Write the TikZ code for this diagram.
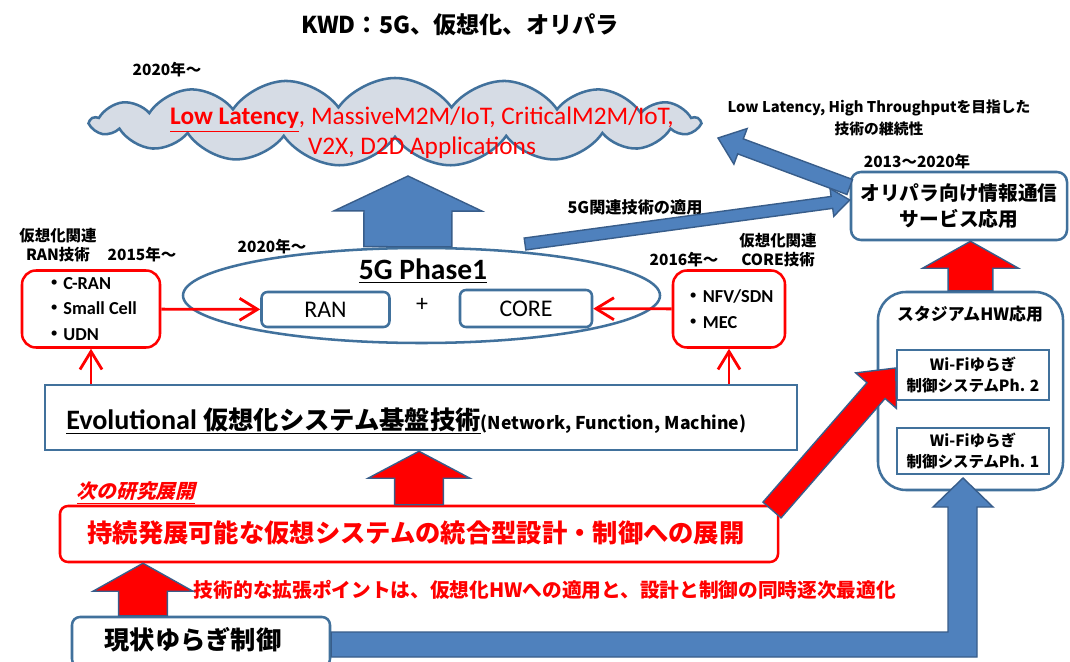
\documentclass[tikz,border=0pt]{standalone}
\usepackage{fontspec}
\setmainfont{Carlito}
\newfontfamily\jp{Noto Sans CJK JP}
\newfontfamily\jpit[FakeSlant=0.25]{Noto Sans CJK JP}
\usetikzlibrary{shapes.geometric,shapes.symbols,arrows.meta,calc}
\definecolor{cadre}{RGB}{65,113,156}
\definecolor{flechebleu}{RGB}{79,129,189}
\definecolor{bordbleu}{RGB}{56,93,138}
\definecolor{gris}{RGB}{214,220,229}
\definecolor{rouge}{RGB}{255,0,0}
\tikzset{
  boite/.style={draw=cadre, line width=1.8pt, fill=white, inner sep=0pt},
  boiterouge/.style={draw=rouge, line width=1.8pt, fill=white, inner sep=0pt},
  blocbleu/.style={fill=flechebleu, draw=bordbleu, line width=1pt},
  blocrouge/.style={fill=rouge, draw=bordbleu, line width=1pt},
  filrouge/.style={draw=rouge, line width=2pt, -{Straight Barb[length=4.5mm,width=5.5mm]}},
  petit/.style={font=\jp\bfseries\fontsize{11}{14}\selectfont, align=center, inner sep=0pt},
}
% fleche pleine : style, depart, arrivee, demi-tige, demi-tete, longueur tete
\newcommand{\flechebloc}[6]{%
  \coordinate (fb) at ($(#3)!#6!(#2)$);
  \draw[#1] ($(#2)!#4!-90:(#3)$) -- ($(fb)!#4!-90:(#3)$) -- ($(fb)!#5!-90:(#3)$) -- (#3)
    -- ($(fb)!#5!90:(#3)$) -- ($(fb)!#4!90:(#3)$) -- ($(#2)!#4!90:(#3)$) -- cycle;
}
\newcommand{\puce}{{\jp ・}}
\begin{document}
\begin{tikzpicture}[x=0.25mm,y=-0.25mm]
	% le fond
	\fill[white] (0,0) rectangle (1070,662);
	\useasboundingbox (0,0) rectangle (1070,662);
	% le titre et le nuage
	\node[font=\jp\bfseries\fontsize{16.5}{20}\selectfont] (titre) at (460,25) {KWD：5G、仮想化、オリパラ};
	\node[petit] (an2020) at (167,70) {2020年～};
	\node[cloud, cloud puffs=17, cloud puff arc=110, cloud ignores aspect, draw=cadre, line width=1.8pt, fill=gris, minimum width=152mm, minimum height=22mm] (cl) at (395,122) {};
	\node[text=rouge, align=center, font=\fontsize{18}{21}\selectfont] (applis) at (422,133) {\underline{\textbf{Low Latency}}, MassiveM2M/IoT, CriticalM2M/IoT,\\V2X, D2D Applications};
	% 5G Phase1
	\node[ellipse, draw=cadre, line width=1.8pt, minimum width=119.25mm, minimum height=23.75mm] (ph) at (421.5,295.5) {};
	\node[font=\bfseries\fontsize{21}{24}\selectfont] (phl) at (423,271) {\underline{5G Phase1}};
	\node[boite, rounded corners=1.5mm, minimum width=32mm, minimum height=8.75mm, font=\fontsize{17}{20}\selectfont] (ran) at (325.5,309.5) {RAN};
	\node[font=\fontsize{17}{20}\selectfont] (plus) at (422,305) {+};
	\node[boite, rounded corners=1.5mm, minimum width=33mm, minimum height=9.25mm, font=\fontsize{17}{20}\selectfont] (core) at (526,308.5) {CORE};
	\node[petit] (an2020b) at (272,247) {2020年～};
	% les deux boites rouges
	\node[boiterouge, rounded corners=3.5mm, minimum width=34.5mm, minimum height=19.25mm, align=left, font=\bfseries\fontsize{13}{18}\selectfont] (ranbox) at (91,309) {\puce C-RAN\\\puce Small Cell\\\puce UDN};
	\node[petit] (ranlbl) at (58,245) {仮想化関連\\RAN技術};
	\node[petit] (an2015) at (142,255) {2015年～};
	\node[boiterouge, rounded corners=3.5mm, minimum width=28mm, minimum height=19.25mm, align=left, font=\bfseries\fontsize{13}{18}\selectfont] (corebox) at (729,309) {\puce NFV/SDN\\\puce MEC};
	\node[petit] (corelbl) at (778,250) {仮想化関連\\CORE技術};
	\node[petit] (an2016) at (684,260) {2016年～};
	% Evolutional
	\node[boite, minimum width=188mm, minimum height=16.25mm] (evo) at (421,417.5) {};
	\node[anchor=west, inner sep=0pt, font=\bfseries\fontsize{20}{24}\selectfont] (evotxt) at (66,421) {\underline{Evolutional {\jp\fontsize{18}{22}\selectfont 仮想化システム基盤技術}}{\jp\bfseries\fontsize{12.5}{16}\selectfont (Network, Function, Machine)}};
	% le prochain developpement
	\node[text=rouge, font=\jpit\bfseries\fontsize{14}{17}\selectfont] (suite) at (136,493) {\underline{次の研究展開}};
	\node[boiterouge, rounded corners=2mm, minimum width=179.5mm, minimum height=14mm] (dev) at (419,534) {};
	\node[text=rouge, font=\jp\bfseries\fontsize{18}{22}\selectfont] (devtxt) at (416,533) {持続発展可能な仮想システムの統合型設計・制御への展開};
	\node[text=rouge, font=\jp\bfseries\fontsize{14}{17}\selectfont] (point) at (545,590) {技術的な拡張ポイントは、仮想化HWへの適用と、設計と制御の同時逐次最適化};
	\node[boite, rounded corners=2mm, minimum width=64.5mm, minimum height=12.5mm] (genjo) at (201,642) {};
	\node[font=\jp\bfseries\fontsize{18}{22}\selectfont] (genjotxt) at (193,640) {現状ゆらぎ制御};
	% a droite
	\node[boite, rounded corners=2.5mm, minimum width=54mm, minimum height=17mm, align=center, font=\jp\bfseries\fontsize{14}{19}\selectfont] (ori) at (959,206) {オリパラ向け情報通信\\サービス応用};
	\node[petit] (an2013) at (917,162) {2013～2020年};
	\node[petit, font=\jp\bfseries\fontsize{10.5}{16}\selectfont] (llht) at (879,118) {Low Latency, High Throughputを目指した\\技術の継続性};
	\node[petit, font=\jp\bfseries\fontsize{11.5}{14}\selectfont] (app5g) at (635,207) {5G関連技術の適用};
	\node[boite, rounded corners=7mm, minimum width=46.25mm, minimum height=49.5mm] (stade) at (970.5,391) {};
	\node[petit, font=\jp\bfseries\fontsize{12}{14}\selectfont] (stadelbl) at (970,314) {スタジアムHW応用};
	\node[boite, minimum width=38mm, minimum height=12.5mm, align=center, font=\jp\bfseries\fontsize{11}{15}\selectfont] (ph2) at (973,375) {Wi-Fiゆらぎ\\制御システムPh. 2};
	\node[boite, minimum width=38mm, minimum height=11.5mm, align=center, font=\jp\bfseries\fontsize{11}{15}\selectfont] (ph1) at (973,451) {Wi-Fiゆらぎ\\制御システムPh. 1};
	% les fleches rouges fines
	\draw[filrouge] (ranbox) -- (ran);
	\draw[filrouge] (corebox) -- (core);
	\draw[filrouge] (evo.north -| ranbox.south) -- (ranbox.south);
	\draw[filrouge] (evo.north -| corebox.south) -- (corebox.south);
	% les grosses fleches
	\coordinate (a1) at ([xshift=-3.4mm]ph.north);
	\coordinate (a1h) at (408,176);
	\flechebloc{blocbleu}{a1}{a1h}{11mm}{18.5mm}{8.75mm}
	\coordinate (a6) at (525,244);
	\coordinate (a6h) at ([yshift=1.5mm]ori.west);
	\flechebloc{blocbleu}{a6}{a6h}{1.5mm}{3.5mm}{4.5mm}
	\coordinate (a7) at ([yshift=4.75mm]ori.west);
	\coordinate (a7h) at (718,138);
	\flechebloc{blocbleu}{a7}{a7h}{2mm}{4.75mm}{6mm}
	\flechebloc{blocrouge}{dev.north}{dev.north |- evo.south}{6.1mm}{12.75mm}{6.75mm}
	\coordinate (g1) at ([xshift=-14.5mm]genjo.north);
	\flechebloc{blocrouge}{g1}{g1 |- dev.south}{6.1mm}{12.5mm}{7mm}
	\flechebloc{blocrouge}{stade.north}{stade.north |- ori.south}{5.6mm}{12mm}{6.75mm}
	\coordinate (a5) at (772,510);
	\coordinate (a5h) at ([yshift=1.75mm]ph2.west);
	\flechebloc{blocrouge}{a5}{a5h}{3mm}{6.75mm}{7.5mm}
	% la fleche coudee
	\draw[blocbleu] (genjo.east |- 0,632) -- (948,632) -- (948,507) -- (933,507) -- (963,478) -- (993,507) -- (977,507) -- (977,657) -- (genjo.east |- 0,657) -- cycle;
\end{tikzpicture}
\end{document}
